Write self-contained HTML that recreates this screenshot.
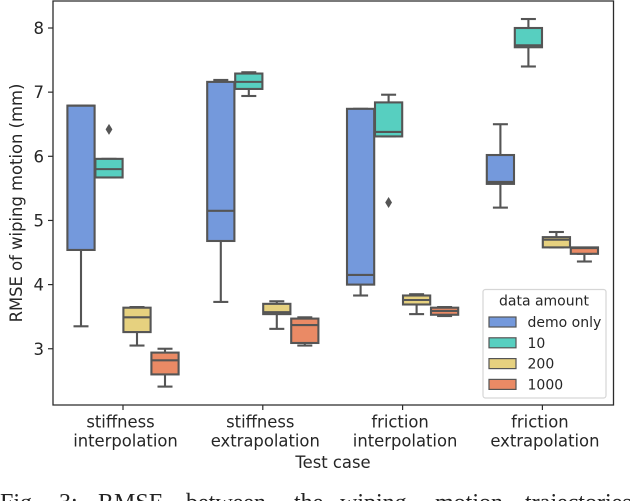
<!DOCTYPE html>
<html lang="en">
<head>
<meta charset="utf-8">
<title>RMSE of wiping motion boxplot</title>
<style>
html,body{margin:0;padding:0;background:#fff;width:640px;height:501px;overflow:hidden}
svg{display:block}
text{font-family:"DejaVu Sans","Liberation Sans",sans-serif;fill:#262626}
.cap{font-family:"Liberation Serif",serif;font-size:24px;fill:#222}
</style>
</head>
<body>
<svg id="chart" xmlns="http://www.w3.org/2000/svg" width="640" height="501" viewBox="0 0 640 501">
  <g id="marks"></g>
  <g id="axes"></g>
  <g id="legend"></g>
  <text x="17" y="203" transform="rotate(-90 17 203) translate(0 5)" text-anchor="middle" font-size="16.4">RMSE of wiping motion (mm)</text>
  <text x="333" y="468" text-anchor="middle" font-size="16.4">Test case</text>
  <g>
    <text class="cap" x="0" y="510">Fig.</text>
    <text class="cap" x="59" y="510">3:</text>
    <text class="cap" x="98" y="510">RMSE</text>
    <text class="cap" x="186" y="510">between</text>
    <text class="cap" x="294" y="510">the</text>
    <text class="cap" x="340" y="510">wiping</text>
    <text class="cap" x="435" y="510">motion</text>
    <text class="cap" x="525" y="510">trajectories</text>
  </g>
</svg>
<script>
const categories = [["stiffness","interpolation"],["stiffness","extrapolation"],["friction","interpolation"],["friction","extrapolation"]];
const seriesNames = ["demo only","10","200","1000"];
const seriesColors = ["#7499dc","#57cfc0","#e6d17f","#ea8a65"];
const yTicks = [3,4,5,6,7,8];

const demoQ1 = [4.54,4.68,4.00,5.57];
const demoMedian = [6.79,5.15,4.15,5.60];
const demoQ3 = [6.79,7.16,6.74,6.02];
const demoLow = [3.35,3.73,3.83,5.20];
const demoHigh = [6.79,7.19,6.74,6.50];
const demoFliers = [[],[],[],[]];

const tenQ1 = [5.67,7.05,6.31,7.70];
const tenMedian = [5.80,7.16,6.38,7.73];
const tenQ3 = [5.96,7.29,6.84,8.00];
const tenLow = [5.67,6.94,6.31,7.40];
const tenHigh = [5.96,7.31,6.96,8.14];
const tenFliers = [[6.42],[],[5.28],[]];

const twoHundredQ1 = [3.26,3.54,3.69,4.58];
const twoHundredMedian = [3.49,3.57,3.76,4.70];
const twoHundredQ3 = [3.64,3.70,3.83,4.74];
const twoHundredLow = [3.05,3.31,3.54,4.58];
const twoHundredHigh = [3.65,3.74,3.85,4.82];
const twoHundredFliers = [[],[],[],[]];

const thousandQ1 = [2.60,3.09,3.53,4.48];
const thousandMedian = [2.82,3.37,3.59,4.57];
const thousandQ3 = [2.94,3.47,3.64,4.58];
const thousandLow = [2.41,3.05,3.51,4.36];
const thousandHigh = [3.00,3.49,3.65,4.48];
const thousandFliers = [[],[],[],[]];

const seriesStats = [
  [demoQ1,demoMedian,demoQ3,demoLow,demoHigh,demoFliers],
  [tenQ1,tenMedian,tenQ3,tenLow,tenHigh,tenFliers],
  [twoHundredQ1,twoHundredMedian,twoHundredQ3,twoHundredLow,twoHundredHigh,twoHundredFliers],
  [thousandQ1,thousandMedian,thousandQ3,thousandLow,thousandHigh,thousandFliers]
];

const NS = "http://www.w3.org/2000/svg";
const LINE = "#555555";
const yScale = v => 28 + (8 - v) * 64.15;
const xScale = c => 123 + c * 139.8;
const offset = s => (s - 1.5) * 28;

function mk(parent, tag, props) {
  const el = document.createElementNS(NS, tag);
  for (const k in props) el.setAttribute(k, props[k]);
  parent.appendChild(el);
  return el;
}
const marks = document.getElementById("marks");
const axes = document.getElementById("axes");
const legend = document.getElementById("legend");

seriesStats.forEach((stats, s) => {
  categories.forEach((cat, c) => {
    const cx = xScale(c) + offset(s);
    const hw = 13.6;
    const capW = 7.5;
    const g = mk(marks, "g", {});
    
    
    const q1 = yScale(stats[0][c]), med = yScale(stats[1][c]), q3 = yScale(stats[2][c]);
    const lo = yScale(stats[3][c]), hi = yScale(stats[4][c]);
    const style = {stroke: LINE, "stroke-width": 2.1, fill: "none"};
    const wl = mk(g, "line", Object.assign({x1: cx, x2: cx, y1: q1, y2: lo}, style));
    
    
    const wh = mk(g, "line", Object.assign({x1: cx, x2: cx, y1: q3, y2: hi}, style));
    
    
    const cl = mk(g, "line", Object.assign({x1: cx - capW, x2: cx + capW, y1: lo, y2: lo}, style));
    
    
    const ch = mk(g, "line", Object.assign({x1: cx - capW, x2: cx + capW, y1: hi, y2: hi}, style));
    
    
    const box = mk(g, "rect", {x: cx - hw, y: q3, width: hw * 2, height: q1 - q3, fill: seriesColors[s], stroke: LINE, "stroke-width": 2.1});
    
    
    const ml = mk(g, "line", Object.assign({x1: cx - hw, x2: cx + hw, y1: med, y2: med}, style));
    
    
    stats[5][c].forEach(f => {
      const fy = yScale(f);
      const d = mk(g, "polygon", {points: [cx, fy - 5.5, cx + 3.4, fy, cx, fy + 5.5, cx - 3.4, fy].join(","), fill: LINE});
      
      
    });
  });
});

const frame = mk(axes, "path", {d: "M53 405V1H613.5V405Z", fill: "none", stroke: "#2b2b2b", "stroke-width": 1.3});



yTicks.forEach(t => {
  const y = yScale(t);
  const tk = mk(axes, "line", {x1: 48, x2: 53, y1: y, y2: y, stroke: "#2b2b2b", "stroke-width": 1.2});
  
  
  const lb = mk(axes, "text", {x: 44, y: y + 6, "text-anchor": "end", "font-size": 16.5});
  lb.textContent = t;
  
  
});

categories.forEach((cat, c) => {
  const x = xScale(c);
  const tk = mk(axes, "line", {x1: x, x2: x, y1: 405, y2: 410, stroke: "#2b2b2b", "stroke-width": 1.2});
  
  
  const l1 = mk(axes, "text", {x: x - 2.5, y: 427.5, "text-anchor": "middle", "font-size": 16.4});
  l1.textContent = cat[0];
  
  
  const l2 = mk(axes, "text", {x: x + 2.5, y: 446.5, "text-anchor": "middle", "font-size": 16.4});
  l2.textContent = cat[1];
  
  
});

const lbox = mk(legend, "rect", {x: 483, y: 289.5, width: 123, height: 108.5, rx: 2.5, fill: "#fff", stroke: "#d6d6d6", "stroke-width": 1.2});


const ltitle = mk(legend, "text", {x: 544, y: 305.5, "text-anchor": "middle", "font-size": 14});
ltitle.textContent = "data amount";


seriesNames.forEach((n, i) => {
  const cy = 322 + i * 20.8;
  const sw = mk(legend, "rect", {x: 489, y: cy - 5, width: 27, height: 10, fill: seriesColors[i], stroke: LINE, "stroke-width": 1.2});
  
  
  const tx = mk(legend, "text", {x: 527.5, y: cy + 5, "font-size": 14});
  tx.textContent = n;
  
  
});
</script>
</body>
</html>
